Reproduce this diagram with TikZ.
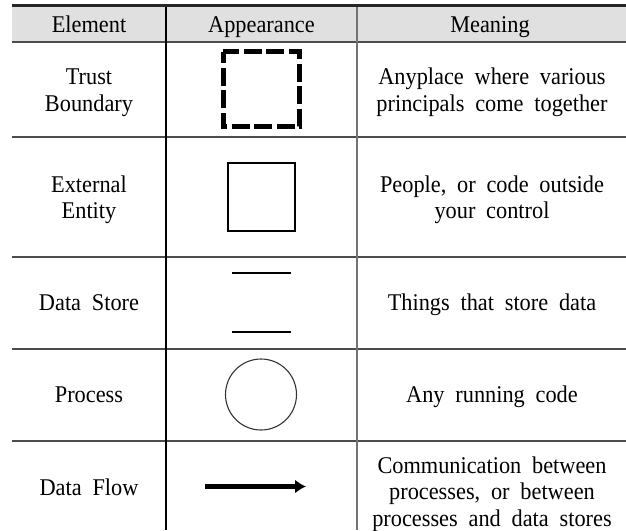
\documentclass[tikz,border=0pt]{standalone}
\usepackage{fontspec}
\setmainfont{Liberation Serif}[FakeStretch=0.93]
\usetikzlibrary{shapes.geometric,arrows.meta}
\newcommand\mytxtfont{\fontsize{24}{27}\selectfont\spaceskip=0.45em\relax}
\begin{document}
\begin{tikzpicture}[x=1pt,y=-1pt,
  txt/.style={anchor=base,inner sep=0pt,font=\mytxtfont},
  hline/.style={draw=black!70,line width=1.3pt},
  sym/.style={draw=black,line width=1.1pt}]
\useasboundingbox (0,0) rectangle (626,530);
\fill[black!12] (12,5) rectangle (626,42);
\draw[line width=2.8pt,draw=black!85] (12,5.5) -- (626,5.5);
\draw[hline] (12,42) -- (626,42);
\draw[hline] (12,137) -- (626,137);
\draw[hline] (12,257) -- (626,257);
\draw[hline] (12,349) -- (626,349);
\draw[hline] (12,441) -- (626,441);
\draw[line width=1.2pt,draw=black] (166,7) -- (166,530);
\draw[line width=1.4pt,draw=black!55] (357,7) -- (357,530);
% header
\node[txt] (h1) at (89,32) {Element};
\node[txt] (h2) at (261.5,32) {Appearance};
\node[txt] (h3) at (490,32) {Meaning};
% row 1
\node[txt] (e1a) at (89,84) {Trust};
\node[txt] (e1b) at (89,111) {Boundary};
\draw[line width=5pt,dash pattern=on 18pt off 4.5pt,dash phase=2pt] (223,51.5) -- (299,51.5) -- (299,126.5) -- (223,126.5) -- cycle;
\node[txt] (m1a) at (492,84) {Anyplace where various};
\node[txt] (m1b) at (492,111) {principals come together};
% row 2
\node[txt] (e2a) at (89,192) {External};
\node[txt] (e2b) at (89,218) {Entity};
\node[sym,minimum width=67pt,minimum height=68pt,inner sep=0pt] (a2) at (261.5,197) {};
\node[txt] (m2a) at (492,192) {People, or code outside};
\node[txt] (m2b) at (492,218) {your control};
% row 3
\node[txt] (e3) at (89,310) {Data Store};
\draw[sym] (232,273) -- (291,273);
\draw[sym] (232,332) -- (291,332);
\node[txt] (m3) at (492,310) {Things that store data};
% row 4
\node[txt] (e4) at (89,402) {Process};
\node[sym,ellipse,minimum width=71pt,minimum height=71pt,inner sep=0pt,draw=black!80] (a4) at (261,394.5) {};
\node[txt] (m4) at (492,402) {Any running code};
% row 5
\node[txt] (e5) at (89,495) {Data Flow};
\coordinate (f1) at (205,486.5);
\coordinate (f2) at (306,486.5);
\draw[line width=5pt,-{Latex[length=11pt,width=14pt]}] (f1) -- (f2);
\node[txt] (m5a) at (492,473) {Communication between};
\node[txt] (m5b) at (492,499.5) {processes, or between};
\node[txt] (m5c) at (492,526) {processes and data stores};
\end{tikzpicture}
\end{document}
